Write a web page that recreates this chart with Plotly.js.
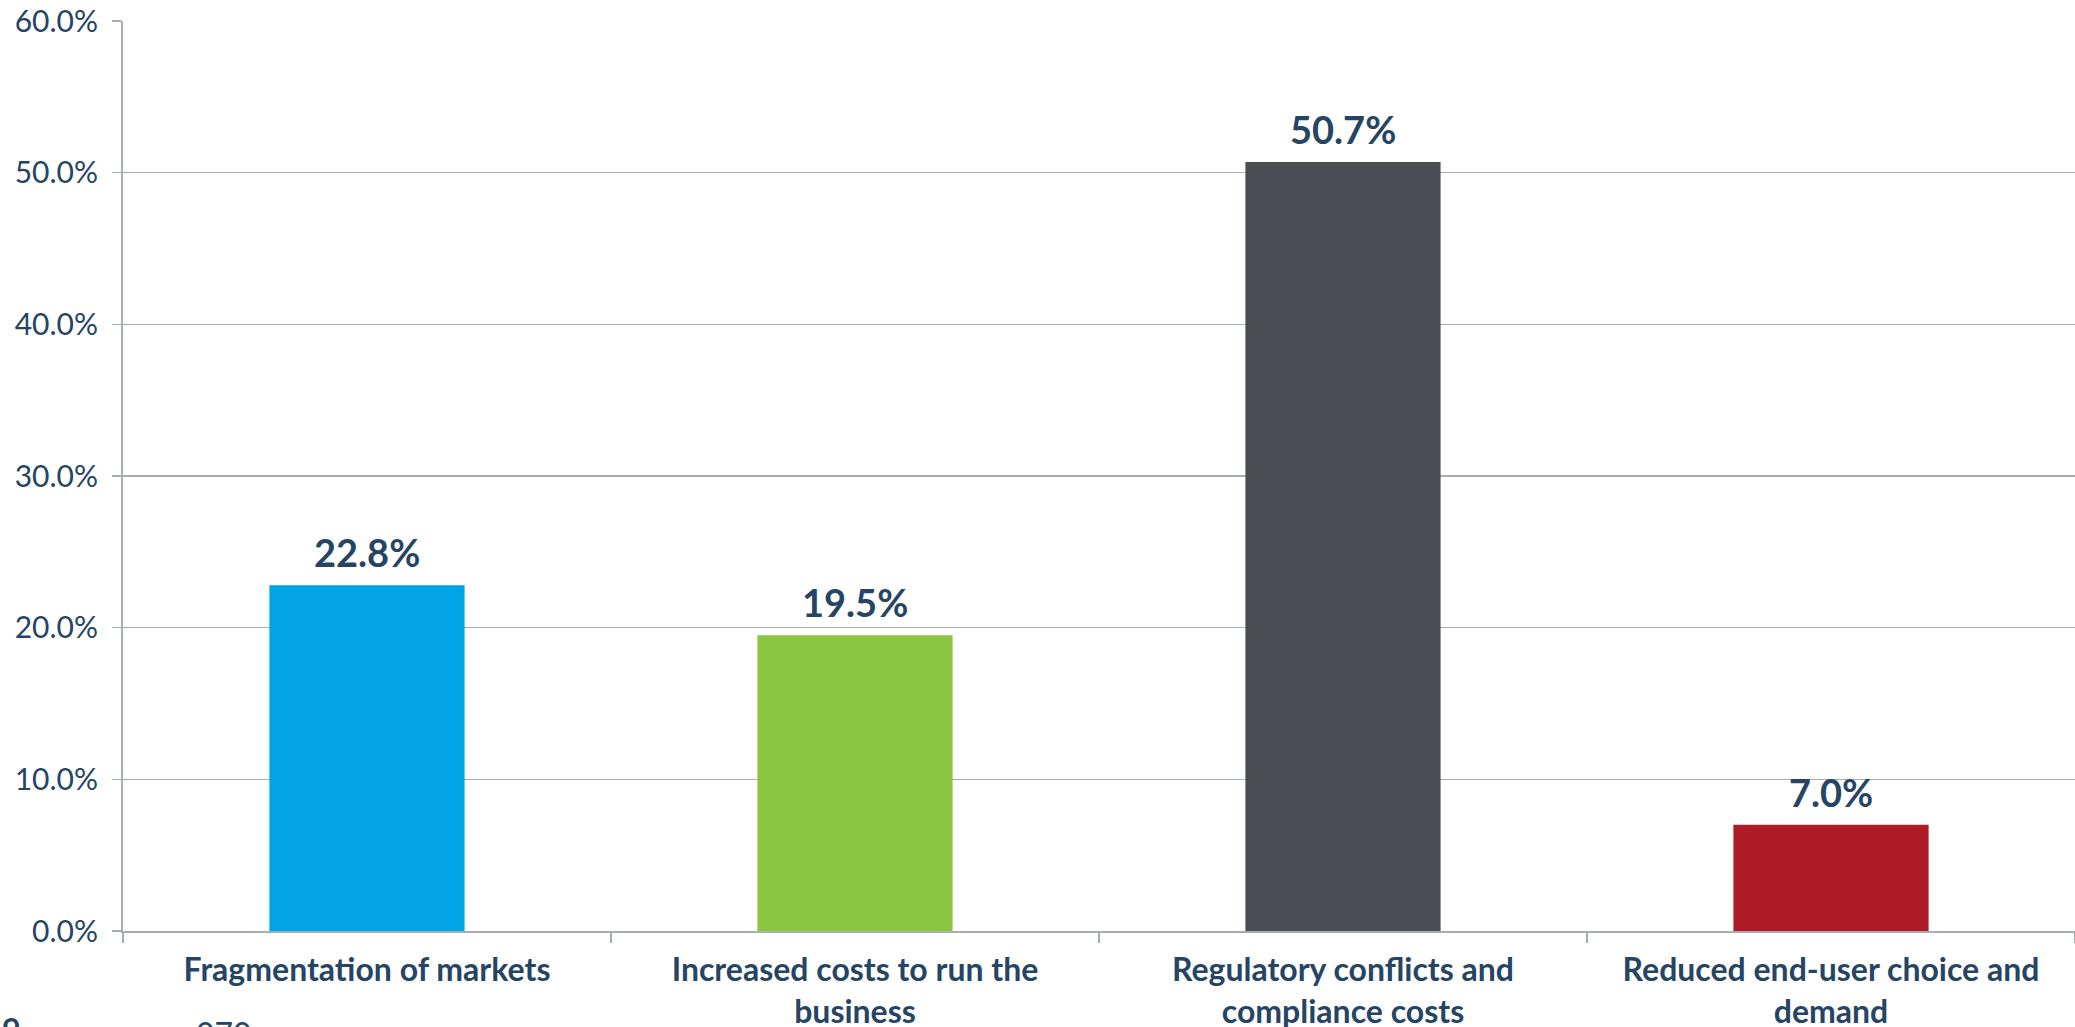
<!DOCTYPE html>
<html>
<head>
<meta charset="utf-8">
<script src="https://cdn.plot.ly/plotly-3.0.1.min.js"></script>
<style>
html,body{margin:0;padding:0;background:#fff;}
#chart{width:2075px;height:1027px;}
</style>
</head>
<body>
<div id="chart"></div>
<script>
var categories = ["Fragmentation of markets", "Increased costs to run the business", "Regulatory conflicts and compliance costs", "Reduced end-user choice and demand"];
var categoryLabels = ["Fragmentation of markets", "Increased costs to run the<br>business", "Regulatory conflicts and<br>compliance costs", "Reduced end-user choice and<br>demand"];
var values = [22.8, 19.5, 50.7, 7.0];
var barColors = ["#00A3E4", "#8BC540", "#4A4E54", "#AE1A26"];
var yTickValues = [0, 10, 20, 30, 40, 50, 60];
var yTickLabels = ["0.0%", "10.0%", "20.0%", "30.0%", "40.0%", "50.0%", "60.0%"];

var textColor = "#264565";
var gridColor = "#A8ADB4";

var trace = {
  type: "bar",
  x: categories,
  y: values,
  marker: {color: barColors},
  hoverinfo: "none"
};

var valueAnnotations = categories.map(function(c, i){
  return {
    x: c, y: values[i], xref: "x", yref: "y",
    text: "<b>" + values[i].toFixed(1) + "%</b>",
    showarrow: false, xanchor: "center", yanchor: "bottom", yshift: 8,
    font: {family: "Lato", size: 38, color: textColor}
  };
});

var layout = {
  width: 2075,
  height: 1027,
  margin: {l: 123, r: 0, t: 21, b: 96},
  paper_bgcolor: "#ffffff",
  plot_bgcolor: "#ffffff",
  bargap: 0.6,
  showlegend: false,
  font: {family: "Lato", color: textColor},
  xaxis: {
    type: "category",
    tickmode: "array",
    tickvals: categories,
    ticktext: categoryLabels,
    tickson: "boundaries",
    ticks: "outside",
    ticklen: 10,
    tickwidth: 1.5,
    tickcolor: gridColor,
    showline: true,
    linecolor: gridColor,
    linewidth: 2,
    showgrid: false,
    ticklabelstandoff: 10,
    tickfont: {family: "Lato", size: 32, color: textColor, weight: "bold"},
    automargin: false
  },
  yaxis: {
    range: [0, 60],
    tickmode: "array",
    tickvals: yTickValues,
    ticktext: yTickLabels,
    ticks: "outside",
    ticklen: 9,
    tickwidth: 1.5,
    tickcolor: gridColor,
    showline: true,
    linecolor: gridColor,
    linewidth: 2,
    showgrid: true,
    gridcolor: gridColor,
    gridwidth: 1.5,
    zeroline: false,
    ticklabelstandoff: 8,
    tickfont: {family: "Lato", size: 30, color: textColor},
    automargin: false
  },
  annotations: valueAnnotations.concat([
    {xref: "paper", yref: "paper", x: -0.063, y: -0.0846, xanchor: "left", yanchor: "top",
     text: "<b>9</b>", showarrow: false, font: {family: "Lato", size: 32, color: textColor}},
    {xref: "paper", yref: "paper", x: 0.0364, y: -0.0846, xanchor: "left", yanchor: "top", yshift: -4,
     text: "070", showarrow: false, font: {family: "Lato", size: 32, color: textColor}}
  ])
};

Plotly.newPlot("chart", [trace], layout, {staticPlot: true, displayModeBar: false});
</script>
</body>
</html>
